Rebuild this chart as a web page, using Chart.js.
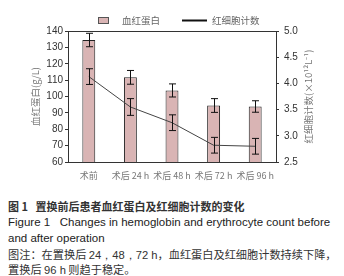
<!DOCTYPE html>
<html><head><meta charset="utf-8">
<script src="https://cdn.jsdelivr.net/npm/chart.js@4"></script>
<style>
html,body{margin:0;padding:0;background:#fff;width:344px;height:276px;overflow:hidden;}
#wrap{position:relative;width:344px;height:276px;}
#c{position:absolute;left:0;top:0;}
.cap{position:absolute;left:8px;white-space:nowrap;color:#222;font-family:"Liberation Sans",Arial,sans-serif;font-size:11.5px;line-height:14px;}
.zh{font-family:"Noto Sans CJK SC",sans-serif;}
</style></head>
<body><div id="wrap">
<canvas id="c" width="344" height="196"></canvas>
<div class="cap zh" style="top:199px;font-size:11px;font-weight:bold;color:#333;">图 1&nbsp;&nbsp;&nbsp;置换前后患者血红蛋白及红细胞计数的变化</div>
<div class="cap" style="top:215px;">Figure 1&nbsp;&nbsp;&nbsp;Changes in hemoglobin and erythrocyte count before</div>
<div class="cap" style="top:231px;">and after operation</div>
<div class="cap zh" style="top:247px;font-size:11.2px;color:#333;">图注：在置换后 <span style="font-family:'Liberation Sans'">24，48，72 h</span>，血红蛋白及红细胞计数持续下降，</div>
<div class="cap zh" style="top:262px;font-size:11.2px;color:#333;">置换后 <span style="font-family:'Liberation Sans'">96 h</span> 则趋于稳定。</div>
</div>
<script>
const categories = ["术前", "术后 24 h", "术后 48 h", "术后 72 h", "术后 96 h"];
const hbMean = [134.5, 111.7, 103.7, 94.5, 93.9];
const hbSD = [4.1, 4.2, 4.0, 4.2, 3.5];
const rbcMean = [4.13, 3.55, 3.25, 2.82, 2.80];
const rbcSD = [0.15, 0.16, 0.15, 0.15, 0.15];
const leftTicks = [60, 70, 80, 90, 100, 110, 120, 130, 140];
const rightTicks = [2.5, 3.0, 3.5, 4.0, 4.5, 5.0];
const legendLabels = ["血红蛋白", "红细胞计数"];
const leftTitle = "血红蛋白(g/L)";
const rightTitle = "红细胞计数(×10¹²L⁻¹)";

const NUM = '"Liberation Sans", Arial, sans-serif';
const ZH = '"Noto Sans CJK SC", sans-serif';

const errorBars = {
  id: 'errorBars',
  afterDatasetsDraw(chart) {
    const ctx = chart.ctx;
    const x = chart.scales.x;
    ctx.save();
    ctx.strokeStyle = '#111';
    ctx.lineWidth = 1;
    const draw = (means, sds, scale) => {
      means.forEach((m, i) => {
        const cx = Math.round(x.getPixelForValue(i)) + 0.5;
        const yt = scale.getPixelForValue(m + sds[i]);
        const yb = scale.getPixelForValue(m - sds[i]);
        ctx.beginPath();
        ctx.moveTo(cx, yt); ctx.lineTo(cx, yb);
        ctx.moveTo(cx - 3.5, yt); ctx.lineTo(cx + 3.5, yt);
        ctx.moveTo(cx - 3.5, yb); ctx.lineTo(cx + 3.5, yb);
        ctx.stroke();
      });
    };
    draw(hbMean, hbSD, chart.scales.y);
    draw(rbcMean, rbcSD, chart.scales.y2);
    ctx.restore();
  }
};

const decor = {
  id: 'decor',
  afterDraw(chart) {
    const ctx = chart.ctx;
    const a = chart.chartArea;
    ctx.save();
    ctx.strokeStyle = '#333';
    ctx.lineWidth = 1;
    ctx.beginPath();
    ctx.moveTo(a.left, a.top + 0.5); ctx.lineTo(a.right, a.top + 0.5);
    ctx.stroke();
    // legend
    ctx.fillStyle = '#d9b4b4';
    ctx.strokeStyle = '#555';
    ctx.fillRect(98, 17, 11, 7);
    ctx.strokeRect(98.5, 17.5, 10, 6);
    ctx.fillStyle = '#666';
    ctx.font = '9.5px ' + ZH;
    ctx.textBaseline = 'middle';
    ctx.textAlign = 'left';
    ctx.fillText(legendLabels[0], 122, 20.5);
    ctx.strokeStyle = '#111';
    ctx.lineWidth = 2;
    ctx.beginPath();
    ctx.moveTo(182, 20.5); ctx.lineTo(207, 20.5);
    ctx.stroke();
    ctx.fillText(legendLabels[1], 212, 20.5);
    // axis titles
    const cy = (a.top + a.bottom) / 2;
    ctx.fillStyle = '#777';
    ctx.font = '9.5px ' + ZH;
    ctx.textAlign = 'center';
    ctx.save();
    ctx.translate(35, cy);
    ctx.rotate(-Math.PI / 2);
    ctx.fillText(leftTitle, 0, 0);
    ctx.restore();
    ctx.save();
    ctx.translate(308, cy);
    ctx.rotate(-Math.PI / 2);
    ctx.fillText(rightTitle, 0, 0);
    ctx.restore();
    ctx.restore();
  }
};

new Chart(document.getElementById('c'), {
  data: {
    labels: categories,
    datasets: [
      {
        type: 'line', label: legendLabels[1], data: rbcMean, yAxisID: 'y2',
        borderColor: '#444', borderWidth: 1, pointRadius: 0, tension: 0, order: 0
      },
      {
        type: 'bar', label: legendLabels[0], data: hbMean, yAxisID: 'y',
        backgroundColor: '#d9b4b4', borderColor: '#222', borderWidth: 1,
        categoryPercentage: 0.62, barPercentage: 0.5, order: 1
      }
    ]
  },
  options: {
    responsive: false, animation: false,
    layout: { padding: { top: 31, left: 0, right: 0, bottom: 0 } },
    plugins: { legend: { display: false }, tooltip: { enabled: false } },
    scales: {
      x: {
        grid: { display: false, drawTicks: false },
        border: { color: '#333' },
        ticks: { color: '#777', font: { family: ZH, size: 9 }, padding: 8, maxRotation: 0, autoSkip: false },
        afterFit(s) { s.height = 34; }
      },
      y: {
        position: 'left', min: 60, max: 140,
        afterBuildTicks(s) { s.ticks = leftTicks.map(v => ({ value: v })); },
        grid: { drawOnChartArea: false, tickLength: 3, color: '#333' },
        border: { color: '#333' },
        ticks: { color: '#333', font: { family: NUM, size: 10 }, padding: 2 },
        afterFit(s) { s.width = 68; }
      },
      y2: {
        position: 'right', min: 2.5, max: 5.0,
        afterBuildTicks(s) { s.ticks = rightTicks.map(v => ({ value: v })); },
        grid: { drawOnChartArea: false, tickLength: 3, color: '#333' },
        border: { color: '#333' },
        ticks: { color: '#333', font: { family: NUM, size: 10 }, padding: 5,
          callback: v => Number(v).toFixed(1) },
        afterFit(s) { s.width = 68; }
      }
    }
  },
  plugins: [errorBars, decor]
});
</script>
</body></html>
